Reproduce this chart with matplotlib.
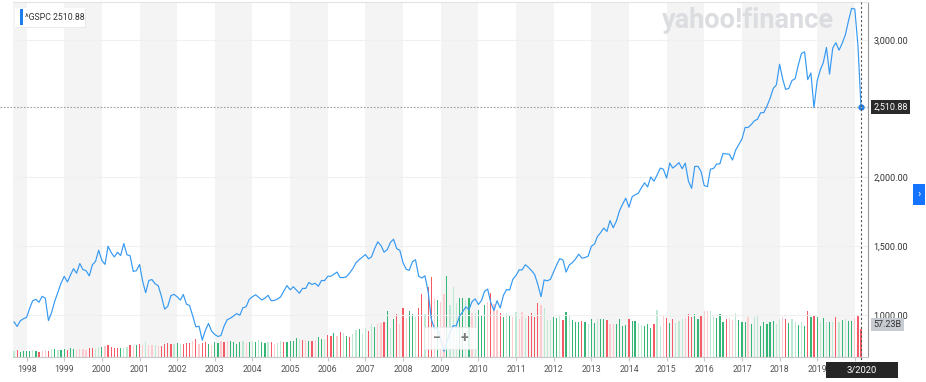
import matplotlib.pyplot as plt
import matplotlib.dates as mdates
import matplotlib.transforms as mtransforms
import numpy as np
import pandas as pd
from matplotlib.lines import Line2D
from matplotlib.patches import Rectangle

plt.rcParams['font.family'] = ['Roboto', 'DejaVu Sans']

# monthly close of ^GSPC, Sep 1997 .. Mar 2020
close = [
    947.28, 914.62, 955.40, 970.43,
    980.28, 1049.34, 1101.75, 1111.75, 1090.82, 1133.84, 1120.67, 957.28, 1017.01, 1098.67, 1163.63, 1229.23,
    1279.64, 1238.33, 1286.37, 1335.18, 1301.84, 1372.71, 1328.72, 1320.41, 1282.71, 1362.93, 1388.91, 1469.25,
    1394.46, 1366.42, 1498.58, 1452.43, 1420.60, 1454.60, 1430.83, 1517.68, 1436.51, 1429.40, 1314.95, 1320.28,
    1366.01, 1239.94, 1160.33, 1249.46, 1255.82, 1224.42, 1211.23, 1133.58, 1040.94, 1059.78, 1139.45, 1148.08,
    1130.20, 1106.73, 1147.39, 1076.92, 1067.14, 989.82, 911.62, 916.07, 815.28, 885.76, 936.31, 879.82,
    855.70, 841.15, 848.18, 916.92, 963.59, 974.50, 990.31, 1008.01, 995.97, 1050.71, 1058.20, 1111.92,
    1131.13, 1144.94, 1126.21, 1107.30, 1120.68, 1140.84, 1101.72, 1104.24, 1114.58, 1130.20, 1173.82, 1211.92,
    1181.27, 1203.60, 1180.59, 1156.85, 1191.50, 1191.33, 1234.18, 1220.33, 1228.81, 1207.01, 1249.48, 1248.29,
    1280.08, 1280.66, 1294.87, 1310.61, 1270.09, 1270.20, 1276.66, 1303.82, 1335.85, 1377.94, 1400.63, 1418.30,
    1438.24, 1406.82, 1420.86, 1482.37, 1530.62, 1503.35, 1455.27, 1473.99, 1526.75, 1549.38, 1481.14, 1468.36,
    1378.55, 1330.63, 1322.70, 1385.59, 1400.38, 1280.00, 1267.38, 1282.83, 1166.36, 968.75, 896.24, 903.25,
    825.88, 735.09, 797.87, 872.81, 919.14, 919.32, 987.48, 1020.62, 1057.08, 1036.19, 1095.63, 1115.10,
    1073.87, 1104.49, 1169.43, 1186.69, 1089.41, 1030.71, 1101.60, 1049.33, 1141.20, 1183.26, 1180.55, 1257.64,
    1286.12, 1327.22, 1325.83, 1363.61, 1345.20, 1320.64, 1292.28, 1218.89, 1131.42, 1253.30, 1246.96, 1257.60,
    1312.41, 1365.68, 1408.47, 1397.91, 1310.33, 1362.16, 1379.32, 1406.58, 1440.67, 1412.16, 1416.18, 1426.19,
    1498.11, 1514.68, 1569.19, 1597.57, 1630.74, 1606.28, 1685.73, 1632.97, 1681.55, 1756.54, 1805.81, 1848.36,
    1782.59, 1859.45, 1872.34, 1883.95, 1923.57, 1960.23, 1930.67, 2003.37, 1972.29, 2018.05, 2067.56, 2058.90,
    1994.99, 2104.50, 2067.89, 2085.51, 2107.39, 2063.11, 2103.84, 1972.18, 1920.03, 2079.36, 2080.41, 2043.94,
    1940.24, 1932.23, 2059.74, 2065.30, 2096.95, 2098.86, 2173.60, 2170.95, 2168.27, 2126.15, 2198.81, 2238.83,
    2278.87, 2363.64, 2362.72, 2384.20, 2411.80, 2423.41, 2470.30, 2471.65, 2519.36, 2575.26, 2647.58, 2673.61,
    2823.81, 2713.83, 2640.87, 2648.05, 2705.27, 2718.37, 2816.29, 2901.52, 2913.98, 2711.74, 2760.17, 2506.85,
    2704.10, 2784.49, 2834.40, 2945.83, 2752.06, 2941.76, 2980.38, 2926.46, 2976.74, 3037.56, 3140.98, 3230.78,
    3225.52, 2954.22, 2510.88,
]

# monthly volume, billions of shares
volume_b = [
    12, 14, 10, 12,
    12, 12, 14, 12, 10, 12, 14, 12, 16, 16, 14, 14,
    16, 14, 18, 16, 14, 16, 16, 14, 18, 18, 16, 20,
    20, 22, 25, 20, 18, 18, 18, 18, 20, 25, 22, 25,
    27, 25, 31, 25, 25, 25, 22, 22, 27, 29, 27, 27,
    29, 27, 27, 29, 29, 33, 37, 27, 29, 31, 27, 25,
    31, 29, 33, 31, 33, 33, 31, 27, 31, 33, 29, 31,
    33, 31, 35, 31, 29, 31, 31, 27, 29, 33, 31, 31,
    33, 33, 39, 37, 35, 35, 33, 33, 35, 41, 37, 35,
    45, 43, 49, 43, 51, 49, 43, 41, 48, 55, 57, 48,
    59, 54, 67, 61, 67, 69, 72, 94, 60, 78, 88, 67,
    101, 80, 94, 88, 82, 100, 129, 88, 144, 164, 120, 117,
    113, 129, 166, 106, 144, 110, 120, 120, 117, 120, 89, 89,
    96, 86, 106, 113, 130, 108, 96, 89, 82, 89, 86, 82,
    92, 78, 91, 79, 84, 89, 82, 111, 106, 100, 76, 76,
    82, 80, 86, 76, 91, 84, 76, 72, 72, 74, 71, 68,
    78, 70, 77, 78, 77, 76, 67, 67, 68, 78, 64, 66,
    78, 73, 74, 69, 65, 63, 67, 60, 68, 96, 64, 84,
    79, 70, 78, 70, 74, 77, 80, 87, 82, 88, 78, 86,
    94, 95, 95, 82, 80, 88, 72, 78, 79, 76, 90, 75,
    72, 72, 82, 67, 82, 84, 64, 72, 67, 72, 74, 68,
    78, 82, 77, 70, 77, 72, 66, 71, 63, 94, 82, 86,
    82, 71, 80, 72, 72, 71, 82, 72, 76, 78, 74, 74,
    79, 86, 57.23,
]

# bar tone per month: G/R = green/red, g/r = pale green/pale red
bar_tone = "".join([
    "gRGGGGgGRrrR", "gGgGGRGGrrrr", "RRggGrRRRRGg", "gRrGRrgrrgrR",
    "RRRgGgRRRrRr", "RRGrGGrRrGGG", "GgrGgGgGGgRr", "ggRGGGGgRrGR",
    "rGGgRR", "GrRgGR",
    "ggGggRgGrrRG", "gGRrRrGGgRRg", "RRrGrrGgggGG", "gGrgGGGrRrrR", "GgGrgr",
    "rgRRRRrgggGG", "gRGgGGGRGgGG", "gGGRrrGGGGRG", "GggGGGRggrRG", "RgggrR",
    "RGGRrrggGGGR", "rrgGGGrGggGG", "GGGggrRGggGg", "GRGRGgGgGgRg", "GgGGrRR",
])

year_labels = [str(y) for y in range(1998, 2020)]
price_ticks = [1000, 1500, 2000, 3000]
last_close = 2510.88
last_volume = 57.23

tone_colors = {'G': '#35b676', 'g': '#bde8d1', 'R': '#f45b66', 'r': '#fdcacd'}

W, H = 926, 382
fig = plt.figure(figsize=(W / 100, H / 100), dpi=100)
L, R, B, T = 13 / W, 868 / W, 25 / H, 380 / H
ax_vol = fig.add_axes([L, B, R - L, T - B])
ax = ax_vol.twinx()

months = pd.date_range('1997-09-01', periods=len(close), freq='MS')
x = mdates.date2num(months)

# alternating year bands
for yr in range(1997, 2021, 2):
    ax_vol.axvspan(mdates.date2num(pd.Timestamp(f'{yr}-01-01')),
                   mdates.date2num(pd.Timestamp(f'{yr + 1}-01-01')),
                   color='#f4f4f4', lw=0, zorder=0)

ax_vol.bar(x, volume_b, width=12, color=[tone_colors[c] for c in bar_tone], zorder=2)
ax_vol.set_ylim(0, last_volume * 355 / 28)
ax_vol.set_yticks([])
for s in ax_vol.spines.values():
    s.set_visible(False)

year_pos = [mdates.date2num(pd.Timestamp(f'{y}-01-01')) for y in year_labels]
ax_vol.set_xticks(year_pos + [mdates.date2num(pd.Timestamp('2020-01-01'))])
ax_vol.set_xticklabels(year_labels + [''], fontsize=6.3, color='#555555')
ax_vol.tick_params(axis='x', length=3, color='#c8c8c8', pad=3)

ax.plot(x, close, color='#3599f2', lw=0.85, zorder=3)
ax.plot(x[-1], close[-1], 'o', ms=3.5, color='#1b7fee', zorder=4)
ax.set_ylim(692, 3277)
ax.set_xlim(x[0] - 10, x[-1] + 68)
ax.set_yticks(price_ticks)
ax.set_yticklabels([f'{p:,.2f}' for p in price_ticks], fontsize=6.5, color='#333333')
ax.tick_params(axis='y', length=0, pad=4)
ax.grid(axis='y', color='#f0f0f0', lw=0.8)
for name, s in ax.spines.items():
    s.set_visible(name in ('right', 'top', 'bottom'))
ax.spines['right'].set_color('#9a9a9a')
ax.spines['top'].set_color('#e3e3e3')
ax.spines['bottom'].set_color('#c8c8c8')

# crosshair on last point
ax.axvline(x[-1], ymin=-0.02, ymax=1, color='#555555', lw=0.8, ls=(0, (2, 2)),
           clip_on=False, zorder=4)
tr = mtransforms.blended_transform_factory(fig.transFigure, ax.transData)
fig.add_artist(Line2D([0, R], [last_close, last_close], transform=tr,
                      color='#a0a0a0', lw=0.8, ls=(0, (1.5, 1.5))))

tr_ax = mtransforms.blended_transform_factory(ax.transAxes, ax.transData)
ax.text(1.006, last_close, f'{last_close:,.2f}', transform=tr_ax, ha='left', va='center',
        fontsize=6.5, color='white', zorder=6, clip_on=False,
        bbox=dict(boxstyle='square,pad=0.25', fc='#2b2b2b', ec='none'))
tr_vol = mtransforms.blended_transform_factory(ax_vol.transAxes, ax_vol.transData)
ax.text(1.006, last_volume, f'{last_volume}B', transform=tr_vol, ha='left', va='bottom',
        fontsize=6.5, color='#333333', zorder=6, clip_on=False,
        bbox=dict(boxstyle='square,pad=0.25', fc='#c7ccd2', ec='none'))


def px_rect(x0, y0, x1, y1, **kw):
    fig.add_artist(Rectangle((x0 / W, 1 - y1 / H), (x1 - x0) / W, (y1 - y0) / H,
                             transform=fig.transFigure, **kw))


# date label under crosshair
px_rect(826, 362, 898, 378, fc='#262626', ec='none', zorder=7)
fig.text(862 / W, 1 - 370.5 / H, '3/2020', ha='center', va='center', fontsize=6.8,
         color='white', zorder=8)

# legend chip
px_rect(16, 9, 86, 28, fc='#e9e9e9', ec='none', zorder=7)
px_rect(15, 8, 85, 27, fc='white', ec='none', zorder=7)
px_rect(20, 9, 23, 25, fc='#1b7fee', ec='none', zorder=8)
fig.text(25 / W, 1 - 17 / H, '^GSPC 2510.88', ha='left', va='center', fontsize=6.3,
         color='#333333', zorder=8)

# watermark
fig.text(662 / W, 1 - 21 / H, 'yahoo!finance', ha='left', va='center', fontsize=19.5,
         fontweight='bold', color='#dcdde0', zorder=1)

# zoom control
px_rect(424, 327, 477, 349, fc='white', ec='#e8e8e8', lw=0.6, alpha=0.85, zorder=7)
fig.text(437 / W, 1 - 338 / H, '\u2212', ha='center', va='center', fontsize=10,
         fontweight='bold', color='#7a7a7a', zorder=8)
fig.text(464 / W, 1 - 338 / H, '+', ha='center', va='center', fontsize=10,
         fontweight='bold', color='#7a7a7a', zorder=8)

# side tab
px_rect(913, 184, 925, 205, fc='#1473ff', ec='none', zorder=7)
fig.text(919 / W, 1 - 194.5 / H, '\u203a', ha='center', va='center', fontsize=8,
         color='white', zorder=8)

fig.savefig('out.png', dpi=100)
